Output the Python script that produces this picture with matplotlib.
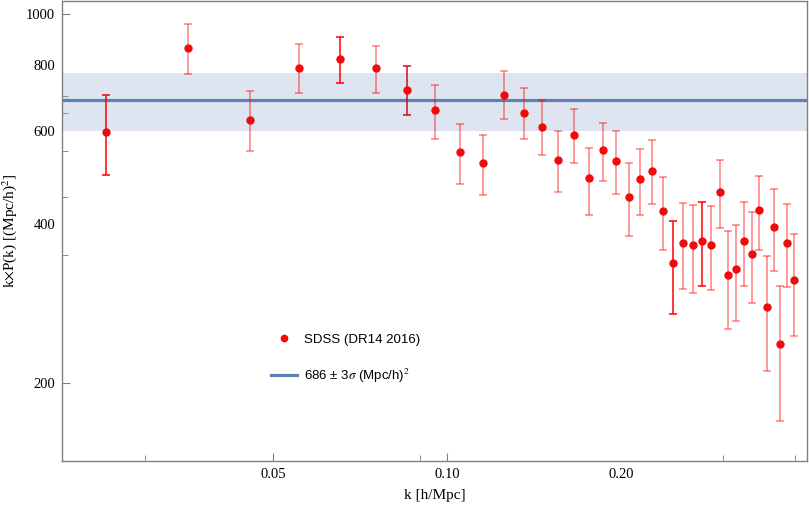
import matplotlib
matplotlib.use('Agg')
import matplotlib.pyplot as plt
from matplotlib.lines import Line2D

# SDSS DR14 (2016) points
k_vals = [0.0257, 0.0356, 0.0456, 0.0555, 0.0654, 0.0754, 0.0854, 0.0954,
          0.1054, 0.1155, 0.1257, 0.1357, 0.1458, 0.1558, 0.1660, 0.1761,
          0.1859, 0.1960, 0.2063, 0.2160, 0.2266, 0.2364, 0.2463, 0.2563,
          0.2668, 0.2765, 0.2867, 0.2967, 0.3067, 0.3167, 0.3269, 0.3371,
          0.3470, 0.3574, 0.3675, 0.3773, 0.3875, 0.3981]
kP_vals = [597, 863, 630, 791, 821, 788, 716, 657,
           548, 522, 703, 650, 611, 530, 589, 488,
           552, 526, 450, 486, 505, 424, 338, 369,
           365, 372, 365, 460, 321, 329, 372, 352,
           425, 279, 395, 237, 369, 314]
kP_low = [495, 770, 549, 709, 741, 709, 642, 580,
          477, 455, 631, 580, 540, 461, 521, 417,
          483, 457, 380, 417, 436, 357, 271, 301,
          297, 306, 300, 393, 253, 262, 305, 284,
          358, 211, 326, 170, 304, 246]
kP_high = [703, 956, 713, 878, 905, 870, 798, 734,
           620, 590, 780, 724, 686, 601, 659, 558,
           622, 599, 523, 556, 576, 492, 406, 438,
           434, 440, 432, 530, 389, 398, 440, 421,
           494, 348, 466, 305, 436, 384]

fit_value = 686
fit_sigma3 = 87

# error bar shades, as drawn in the original
light = (1.0, 0.0, 0.0, 0.5)
bar_colors = [light] * len(k_vals)
for i in [0, 4, 22, 25]:
    bar_colors[i] = (1.0, 0.0, 0.0, 1.0)
bar_colors[6] = (0.78, 0.06, 0.1, 1.0)

blue = '#5e81b5'
serif = ['Liberation Serif', 'DejaVu Serif']
sans = ['Liberation Sans', 'DejaVu Sans']
plt.rcParams['mathtext.fontset'] = 'stix'

fig = plt.figure(figsize=(8.09, 5.07), dpi=100)
ax = fig.add_axes([62 / 809, 46 / 507, 745 / 809, 460 / 507])

ax.axhspan(fit_value - fit_sigma3, fit_value + fit_sigma3, color=blue, alpha=0.2, lw=0, zorder=1)
ax.axhline(fit_value, color=blue, lw=2.3, zorder=2)

for k, v, lo, hi, c in zip(k_vals, kP_vals, kP_low, kP_high, bar_colors):
    ax.errorbar([k], [v], yerr=[[v - lo], [hi - v]], fmt='none', ecolor=c,
                elinewidth=1.1, capsize=3.2, capthick=1.1, zorder=3)
ax.plot(k_vals, kP_vals, 'o', color='#f00a0a', ms=5.0, mec='#f00a0a', zorder=4)

ax.set_xscale('log')
ax.set_yscale('log')
ax.set_xlim(0.02158, 0.4198)
ax.set_ylim(142.6, 1057)

ax.set_xticks([0.05, 0.1, 0.2])
ax.set_xticklabels(['0.05', '0.10', '0.20'])
ax.set_xticks([0.03, 0.09, 0.3, 0.4], minor=True)
ax.set_xticklabels([], minor=True)
ax.set_yticks([200, 400, 600, 800, 1000])
ax.set_yticklabels(['200', '400', '600', '800', '1000'])
ax.set_yticks([350, 450, 550, 650, 700], minor=True)
ax.set_yticklabels([], minor=True)

# only some labelled positions carry a tick mark in the original
for t in ax.xaxis.get_major_ticks()[2:]:
    t.tick1line.set_visible(False)
for t in ax.yaxis.get_major_ticks()[1:4]:
    t.tick1line.set_visible(False)

ax.tick_params(which='both', direction='in', colors='#808080', labelcolor='black',
               labelsize=10.5, pad=5)
ax.tick_params(which='major', length=6)
ax.tick_params(which='minor', length=4)
for lab in ax.get_xticklabels() + ax.get_yticklabels():
    lab.set_family(serif)
for s in ax.spines.values():
    s.set_color('#808080')
    s.set_linewidth(1.0)

ax.set_xlabel('k [h/Mpc]', family=serif, fontsize=11, labelpad=6)
ax.set_ylabel(r'k$\times$P(k) [(Mpc/h)$^2$]', family=serif, fontsize=11, labelpad=5)

handles = [
    Line2D([], [], ls='none', marker='o', color='red', ms=4.5),
    Line2D([], [], color=blue, lw=2.3),
]
labels = ['SDSS (DR14 2016)', r'686 ± 3$\sigma$ (Mpc/h)$^2$']
ax.legend(handles, labels, loc='upper left', bbox_to_anchor=(0.2805, 0.277),
          frameon=False, borderpad=0, borderaxespad=0, handlelength=2.0,
          handletextpad=0.5, labelspacing=1.6, prop={'family': sans, 'size': 9.5})

fig.savefig('out.png', dpi=100)
